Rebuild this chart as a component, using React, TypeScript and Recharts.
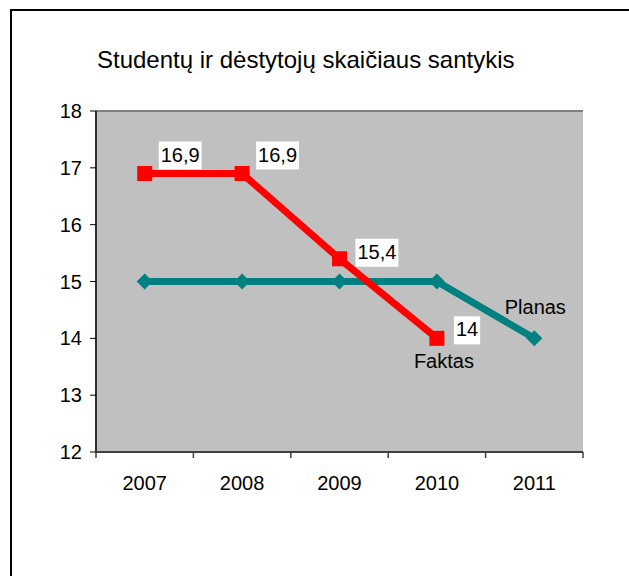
import { LineChart, Line, XAxis, YAxis, CartesianGrid, ReferenceLine, LabelList } from 'recharts';

const years = ['2007', '2008', '2009', '2010', '2011'];
const faktas: (number | null)[] = [16.9, 16.9, 15.4, 14, null];
const planas = [15, 15, 15, 15, 14];
const yTicks = [12, 13, 14, 15, 16, 17, 18];
const title = 'Studentų ir dėstytojų skaičiaus santykis';

const data = years.map((year, i) => ({ year, faktas: faktas[i], planas: planas[i] }));

const FONT = 'Arial, "Liberation Sans", sans-serif';
const PLOT_LEFT = 96;
const PLOT_RIGHT = 583;
const PLOT_TOP = 111;
const PLOT_BOTTOM = 452;
const HALF_BAND = (PLOT_RIGHT - PLOT_LEFT) / years.length / 2;

// where each value label sits relative to its point
const labelDx = [16, 16, 18, 19];
const labelDy = [-12, -12, 0, -2];

const fmt = (v: number) => String(v).replace('.', ',');
const textWidth = (s: string) => s.split('').reduce((w, c) => w + (c === ',' ? 5.56 : 11.12), 0);

const XTick = (props: any) => {
  const { x, y, payload, index } = props;
  return (
    <g>
      <line x1={x - HALF_BAND} y1={y} x2={x - HALF_BAND} y2={y + 6} stroke="#404040" strokeWidth={1.5} />
      {index === years.length - 1 && (
        <line x1={x + HALF_BAND} y1={y} x2={x + HALF_BAND} y2={y + 6} stroke="#404040" strokeWidth={1.5} />
      )}
      <text x={x} y={y + 38} textAnchor="middle" fontSize={20} fontFamily={FONT} fill="#000">
        {payload.value}
      </text>
    </g>
  );
};

const SquareDot = (props: any) => {
  const { cx, cy, value } = props;
  if (value == null || cx == null || cy == null) return null;
  return <rect x={cx - 7.5} y={cy - 7.5} width={15} height={15} fill="#FF0000" />;
};

const DiamondDot = (props: any) => {
  const { cx, cy } = props;
  if (cx == null || cy == null) return null;
  return <polygon points={`${cx},${cy - 8} ${cx + 8},${cy} ${cx},${cy + 8} ${cx - 8},${cy}`} fill="#008080" />;
};

const FaktasLabel = (props: any) => {
  const { x, y, value, index } = props;
  if (value == null) return null;
  const s = fmt(value);
  const tx = x + labelDx[index];
  const ty = y + labelDy[index];
  const w = textWidth(s);
  return (
    <g>
      <rect x={tx - 2} y={ty - 20} width={w + 4} height={28} fill="#fff" />
      <text x={tx} y={ty} fontSize={20} fontFamily={FONT} fill="#000">{s}</text>
      {index === 3 && (
        <text x={x + 7} y={y + 30} textAnchor="middle" fontSize={20} fontFamily={FONT} fill="#000">Faktas</text>
      )}
    </g>
  );
};

const PlanasLabel = (props: any) => {
  const { x, y, index } = props;
  if (index !== years.length - 1) return null;
  return (
    <text x={x + 1} y={y - 24} textAnchor="middle" fontSize={20} fontFamily={FONT} fill="#000">Planas</text>
  );
};

export default function App() {
  return (
    <div style={{ position: 'absolute', left: 0, top: 0, width: 629, height: 576, overflow: 'hidden', background: '#fff' }}>
      <div style={{ position: 'absolute', left: 10, top: 9, width: 700, height: 700, border: '2px solid #000' }} />
      <div style={{ position: 'absolute', left: 97, top: 48, fontSize: 24, lineHeight: '24px', fontFamily: FONT, color: '#000', whiteSpace: 'nowrap' }}>
        {title}
      </div>
      <div style={{ position: 'absolute', left: 0, top: 0 }}>
        <LineChart
          width={629}
          height={576}
          data={data}
          margin={{ top: PLOT_TOP, right: 629 - PLOT_RIGHT, bottom: 576 - PLOT_BOTTOM - 30, left: 0 }}
        >
          <CartesianGrid vertical={false} fill="#C0C0C0" stroke="#404040" strokeDasharray="2 2" />
          <XAxis
            dataKey="year"
            height={30}
            padding={{ left: HALF_BAND, right: HALF_BAND }}
            tickSize={0}
            tickMargin={0}
            tickLine={false}
            axisLine={{ stroke: '#404040', strokeWidth: 2 }}
            tick={<XTick />}
            interval={0}
          />
          <YAxis
            yAxisId="left"
            width={PLOT_LEFT}
            domain={[12, 18]}
            ticks={yTicks}
            interval={0}
            tickSize={6}
            tickMargin={8}
            tickLine={{ stroke: '#000' }}
            axisLine={{ stroke: '#303030', strokeWidth: 2 }}
            tick={{ fontSize: 20, fontFamily: FONT, fill: '#000' }}
          />
          <YAxis
            yAxisId="right"
            orientation="right"
            width={0}
            domain={[12, 18]}
            ticks={yTicks}
            tick={false}
            tickLine={false}
            axisLine={{ stroke: '#808080', strokeWidth: 3 }}
          />
          <ReferenceLine yAxisId="left" y={18} stroke="#808080" strokeWidth={2} />
          <Line
            yAxisId="left"
            dataKey="planas"
            stroke="#008080"
            strokeWidth={7}
            dot={<DiamondDot />}
            activeDot={false}
            isAnimationActive={false}
          >
            <LabelList dataKey="planas" content={<PlanasLabel />} />
          </Line>
          <Line
            yAxisId="left"
            dataKey="faktas"
            stroke="#FF0000"
            strokeWidth={7}
            dot={<SquareDot />}
            activeDot={false}
            isAnimationActive={false}
          >
            <LabelList dataKey="faktas" content={<FaktasLabel />} />
          </Line>
        </LineChart>
      </div>
    </div>
  );
}
